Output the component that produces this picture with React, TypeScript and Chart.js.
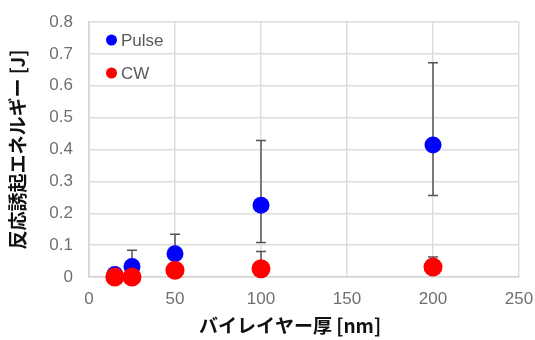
import React, { useEffect, useRef } from "react";
import { Chart, registerables } from "chart.js";

Chart.register(...registerables);

const thickness = [15, 25, 50, 100, 200];
const pulseEnergy = [0.008, 0.033, 0.073, 0.225, 0.414];
const pulseErrPlus = [0, 0.051, 0.061, 0.203, 0.258];
const pulseErrMinus = [0, 0.03, 0.05, 0.117, 0.158];
const cwEnergy = [0, 0, 0.021, 0.026, 0.031];
const cwErrPlus = [0, 0, 0.01, 0.054, 0.032];
const cwErrMinus = [0, 0, 0.01, 0.02, 0.02];
const seriesNames = ["Pulse", "CW"];
const xTitle = "バイレイヤー厚 [nm]";
const yTitle = "反応誘起エネルギー [J]";

const tickFont = { family: "'Liberation Sans', Arial, sans-serif", size: 17 };

const errorBarPlugin = {
  id: "errorBars",
  beforeDatasetsDraw(chart: any) {
    const ctx = chart.ctx;
    const xs = chart.scales.x;
    const ys = chart.scales.y;
    const sets = [
      { v: pulseEnergy, p: pulseErrPlus, m: pulseErrMinus },
      { v: cwEnergy, p: cwErrPlus, m: cwErrMinus },
    ];
    ctx.save();
    ctx.strokeStyle = "#555555";
    ctx.lineWidth = 1.5;
    sets.forEach((s) => {
      thickness.forEach((t, i) => {
        const x = xs.getPixelForValue(t);
        const yc = ys.getPixelForValue(s.v[i]);
        const draw = (val: number) => {
          const y = ys.getPixelForValue(val);
          ctx.beginPath();
          ctx.moveTo(x, yc);
          ctx.lineTo(x, y);
          ctx.moveTo(x - 5, y);
          ctx.lineTo(x + 5, y);
          ctx.stroke();
        };
        if (s.p[i] > 0) draw(s.v[i] + s.p[i]);
        if (s.m[i] > 0) draw(s.v[i] - s.m[i]);
      });
    });
    ctx.restore();
  },
};

const decorPlugin = {
  id: "decor",
  afterDraw(chart: any) {
    const ctx = chart.ctx;
    const area = chart.chartArea;
    ctx.save();
    const colors = ["#0000ff", "#ff0000"];
    const ly = [40, 73];
    ctx.font = "17px 'Liberation Sans', Arial, sans-serif";
    ctx.textBaseline = "middle";
    ctx.textAlign = "left";
    seriesNames.forEach((n, i) => {
      ctx.fillStyle = colors[i];
      ctx.beginPath();
      ctx.arc(area.left + 22.5, ly[i], 5.5, 0, Math.PI * 2);
      ctx.fill();
      ctx.fillStyle = "#595959";
      ctx.fillText(n, area.left + 32, ly[i] + 1);
    });
    ctx.fillStyle = "#111111";
    ctx.font = "bold 19px 'Noto Sans CJK JP', sans-serif";
    ctx.textAlign = "center";
    ctx.fillText(xTitle, 290, 326);
    ctx.translate(18, (area.top + area.bottom) / 2);
    ctx.rotate(-Math.PI / 2);
    ctx.fillText(yTitle, 0, 0);
    ctx.restore();
  },
};

export default function App() {
  const ref = useRef<HTMLCanvasElement>(null);
  useEffect(() => {
    if (!ref.current) return;
    const chart = new Chart(ref.current, {
      type: "scatter",
      data: {
        datasets: [
          {
            label: seriesNames[0],
            data: thickness.map((t, i) => ({ x: t, y: pulseEnergy[i] })),
            backgroundColor: "#0000ff",
            borderColor: "#0000ff",
            pointRadius: 8.5,
            pointHoverRadius: 8.5,
            borderWidth: 0,
            clip: false,
            order: 1,
          },
          {
            label: seriesNames[1],
            data: thickness.map((t, i) => ({ x: t, y: cwEnergy[i] })),
            backgroundColor: "#ff0000",
            borderColor: "#ff0000",
            pointRadius: 9.5,
            pointHoverRadius: 9.5,
            borderWidth: 0,
            clip: false,
            order: 0,
          },
        ],
      },
      options: {
        animation: false,
        responsive: false,
        layout: { padding: { top: 22, right: 16, left: 0, bottom: 0 } },
        plugins: { legend: { display: false }, tooltip: { enabled: false } },
        scales: {
          x: {
            type: "linear",
            min: 0,
            max: 250,
            ticks: { stepSize: 50, color: "#6f6f6f", font: tickFont, padding: 12 },
            grid: { color: "#dddddd", lineWidth: 1.5, drawTicks: false },
            border: { color: "#d4d4d4", width: 1.5 },
            afterFit: (s: any) => {
              s.height = 63;
              s.paddingLeft = 0;
              s.paddingRight = 0;
            },
          },
          y: {
            type: "linear",
            min: 0,
            max: 0.8,
            ticks: { stepSize: 0.1, color: "#6f6f6f", font: tickFont, padding: 16 },
            grid: { color: "#dddddd", lineWidth: 1.5, drawTicks: false },
            border: { color: "#d4d4d4", width: 1.5 },
            afterFit: (s: any) => {
              s.width = 89;
              s.paddingTop = 0;
              s.paddingBottom = 0;
            },
          },
        },
      },
      plugins: [errorBarPlugin, decorPlugin],
    });
    return () => chart.destroy();
  }, []);
  return (
    <div style={{ position: "absolute", left: 0, top: 0, width: 535, height: 340, background: "#fff" }}>
      <canvas ref={ref} width={535} height={340} />
    </div>
  );
}
